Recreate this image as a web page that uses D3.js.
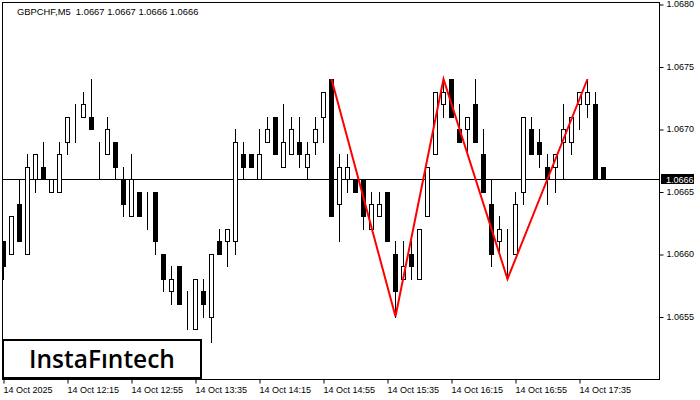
<!DOCTYPE html>
<html>
<head>
<meta charset="utf-8">
<script src="https://cdn.jsdelivr.net/npm/d3@7"></script>
<style>
  body { margin: 0; background: #fff; }
  svg { display: block; font-family: "Liberation Sans", Arial, sans-serif; }
</style>
</head>
<body>
<div id="chart"></div>
<script>
// GBPCHF M5 candles, 14 Oct 2025 from 11:35
const opens  = [1.0661,1.0660,1.0664,1.0660,1.0666,1.0667,1.0665,1.0665,1.0669,1.0670,1.0671,1.0671,1.0669,1.0668,1.0669,1.0666,
                1.0663,1.0665,1.0664,1.0665,1.0660,1.0657,1.0659,1.0655,1.0654,1.0657,1.0655,1.0661,1.0661,1.0661,1.0668,1.0668,
                1.0666,1.0669,1.0671,1.0667,1.0668,1.0669,1.0667,1.0669,1.0671,1.0674,1.0664,1.0666,1.0666,1.0666,1.0662,1.0663,
                1.0665,1.0660,1.0658,1.0660,1.0658,1.0663,1.0668,1.0672,1.0674,1.0670,1.0670,1.0672,1.0668,1.0664,1.0661,1.0661,
                1.0660,1.0665,1.0670,1.0669,1.0667,1.0667,1.0669,1.0669,1.0672,1.0672,1.0672,1.0667];
const highs  = [1.0661,1.0663,1.0666,1.0668,1.0668,1.0669,1.0666,1.0669,1.0671,1.0672,1.0673,1.0674,1.0669,1.0671,1.0669,1.0667,
                1.0668,1.0665,1.0665,1.0665,1.0660,1.0659,1.0659,1.0657,1.0658,1.0658,1.0660,1.0662,1.0662,1.0670,1.0669,1.0668,
                1.0670,1.0671,1.0671,1.0672,1.0671,1.0671,1.0669,1.0671,1.0673,1.0674,1.0668,1.0668,1.0666,1.0666,1.0665,1.0665,
                1.0665,1.0661,1.0661,1.0661,1.0662,1.0667,1.0673,1.0674,1.0674,1.0672,1.0671,1.0674,1.0670,1.0666,1.0663,1.0662,
                1.0665,1.0671,1.0671,1.0670,1.0668,1.0668,1.0672,1.0671,1.0673,1.0674,1.0673,1.0667];
const lows   = [1.0658,1.0660,1.0661,1.0660,1.0665,1.0666,1.0665,1.0665,1.0668,1.0669,1.0671,1.0670,1.0666,1.0668,1.0666,1.0663,
                1.0663,1.0663,1.0662,1.0660,1.0657,1.0656,1.0656,1.0654,1.0654,1.0655,1.0653,1.0660,1.0659,1.0660,1.0666,1.0667,
                1.0666,1.0669,1.0668,1.0667,1.0668,1.0667,1.0666,1.0668,1.0669,1.0663,1.0661,1.0665,1.0665,1.0662,1.0662,1.0663,
                1.0661,1.0655,1.0658,1.0658,1.0658,1.0663,1.0668,1.0671,1.0671,1.0669,1.0668,1.0669,1.0665,1.0659,1.0660,1.0658,
                1.0660,1.0664,1.0668,1.0667,1.0664,1.0665,1.0666,1.0668,1.0670,1.0671,1.0666,1.0666];
const closes = [1.0659,1.0663,1.0661,1.0667,1.0668,1.0666,1.0666,1.0668,1.0671,1.0670,1.0672,1.0670,1.0669,1.0670,1.0667,1.0664,
                1.0666,1.0663,1.0664,1.0661,1.0658,1.0658,1.0656,1.0655,1.0658,1.0656,1.0660,1.0660,1.0662,1.0669,1.0667,1.0667,
                1.0668,1.0670,1.0668,1.0669,1.0670,1.0668,1.0668,1.0670,1.0673,1.0663,1.0667,1.0667,1.0665,1.0663,1.0664,1.0664,
                1.0661,1.0657,1.0659,1.0659,1.0662,1.0667,1.0673,1.0673,1.0671,1.0669,1.0671,1.0669,1.0665,1.0660,1.0662,1.0661,
                1.0664,1.0671,1.0668,1.0668,1.0666,1.0668,1.0670,1.0671,1.0673,1.0673,1.0666,1.0666];

// Double top / bottom pattern pivots (bar index, price)
const patternBars   = [41, 49, 55, 63, 73];
const patternPrices = [1.0674, 1.0655, 1.0674, 1.0658, 1.0674];

const priceTicks = [1.0655, 1.0660, 1.0665, 1.0670, 1.0675, 1.0680];
const timeTickBars = [0, 8, 16, 24, 32, 40, 48, 56, 64, 72];
const timeLabels = ["14 Oct 2025", "14 Oct 12:15", "14 Oct 12:55", "14 Oct 13:35", "14 Oct 14:15",
                    "14 Oct 14:55", "14 Oct 15:35", "14 Oct 16:15", "14 Oct 16:55", "14 Oct 17:35"];
const lastPrice = 1.0666;
const title = "GBPCHF,M5  1.0667 1.0667 1.0666 1.0666";

const W = 700, H = 400;
const plot = {left: 2, top: 2, right: 659, bottom: 379};

const svg = d3.select("#chart").append("svg")
    .attr("width", W)
    .attr("height", H);

const x = d3.scaleLinear().domain([0, 75]).range([3, 603]);
const y = d3.scaleLinear().domain([1.0650, 1.0680]).range([379, 4]);
const px = v => Math.round(v) + 0.5;

svg.append("clipPath").attr("id", "clip")
    .append("rect")
    .attr("x", plot.left).attr("y", plot.top)
    .attr("width", plot.right - plot.left).attr("height", plot.bottom - plot.top);

const g = svg.append("g").attr("clip-path", "url(#clip)");

// current price line
g.append("line")
    .attr("x1", plot.left).attr("x2", plot.right)
    .attr("y1", px(y(lastPrice))).attr("y2", px(y(lastPrice)))
    .attr("stroke", "#000").attr("stroke-width", 1);

const candles = d3.range(opens.length).map(i => ({
    i: i, o: opens[i], h: highs[i], l: lows[i], c: closes[i]
}));

const cg = g.selectAll("g.candle")
    .data(candles)
    .enter()
    .append("g")
    .attr("class", "candle");

cg.append("line")
    .attr("x1", d => px(x(d.i))).attr("x2", d => px(x(d.i)))
    .attr("y1", d => Math.round(y(d.h))).attr("y2", d => Math.round(y(d.l)) + 1)
    .attr("stroke", "#000");

cg.append("rect")
    .attr("x", d => px(x(d.i)) - 2)
    .attr("y", d => px(y(Math.max(d.o, d.c))))
    .attr("width", 4)
    .attr("height", d => Math.max(0, Math.round(y(Math.min(d.o, d.c))) - Math.round(y(Math.max(d.o, d.c)))))
    .attr("fill", d => d.c < d.o ? "#000" : "#fff")
    .attr("stroke", "#000")
    .attr("stroke-width", 1);

// pattern line
g.append("path")
    .datum(patternBars.map((b, k) => [b, patternPrices[k]]))
    .attr("d", d3.line().x(d => x(d[0]) + 0.5).y(d => y(d[1])))
    .attr("fill", "none")
    .attr("stroke", "#ff0000")
    .attr("stroke-width", 2);

// frame
svg.append("rect")
    .attr("x", plot.left + 0.5).attr("y", plot.top + 0.5)
    .attr("width", plot.right - plot.left).attr("height", plot.bottom - plot.top)
    .attr("fill", "none").attr("stroke", "#000");

// price axis
const yAxis = svg.append("g")
    .attr("transform", `translate(${plot.right + 0.5},0)`)
    .call(d3.axisRight(y).tickValues(priceTicks).tickSize(4).tickPadding(3).tickFormat(d3.format(".4f")));
yAxis.select(".domain").remove();
yAxis.selectAll("line").attr("transform", "translate(0,0.5)");
yAxis.selectAll("text")
    .style("font-family", "Liberation Sans, Arial, sans-serif")
    .style("font-size", "9px")
    .attr("fill", "#000");

// last price tag
const tag = svg.append("g").attr("transform", `translate(${plot.right + 2},${Math.round(y(lastPrice))})`);
tag.append("rect").attr("x", 0).attr("y", -5).attr("width", 33).attr("height", 10).attr("fill", "#000");
tag.append("text").attr("x", 5).attr("y", 3.5)
    .style("font-size", "9px").attr("fill", "#fff").text(d3.format(".4f")(lastPrice));

// time axis
const xAxis = svg.append("g")
    .attr("transform", `translate(0,${plot.bottom + 0.5})`)
    .call(d3.axisBottom(x).tickValues(timeTickBars).tickSize(4).tickPadding(3)
        .tickFormat((d, i) => timeLabels[i]));
xAxis.select(".domain").remove();
xAxis.selectAll("line").attr("transform", "translate(0.5,0)");
xAxis.selectAll("text")
    .attr("text-anchor", "start")
    .attr("x", 0)
    .style("font-family", "Liberation Sans, Arial, sans-serif")
    .style("font-size", "9px")
    .attr("fill", "#000");

// title
svg.append("text")
    .attr("x", 17).attr("y", 15)
    .style("font-size", "9.4px")
    .attr("fill", "#000")
    .attr("xml:space", "preserve")
    .style("white-space", "pre")
    .text(title);

// logo
const logo = svg.append("g");
logo.append("rect")
    .attr("x", 3).attr("y", 340).attr("width", 198).attr("height", 38)
    .attr("fill", "#fff").attr("stroke", "#000").attr("stroke-width", 2);
logo.append("text")
    .attr("x", 102).attr("y", 367.5)
    .attr("text-anchor", "middle")
    .style("font-family", "Open Sans, Noto Sans, sans-serif")
    .style("font-size", "24.5px")
    .style("font-weight", "600")
    .attr("fill", "#000")
    .text("InstaFıntech");
</script>
</body>
</html>
